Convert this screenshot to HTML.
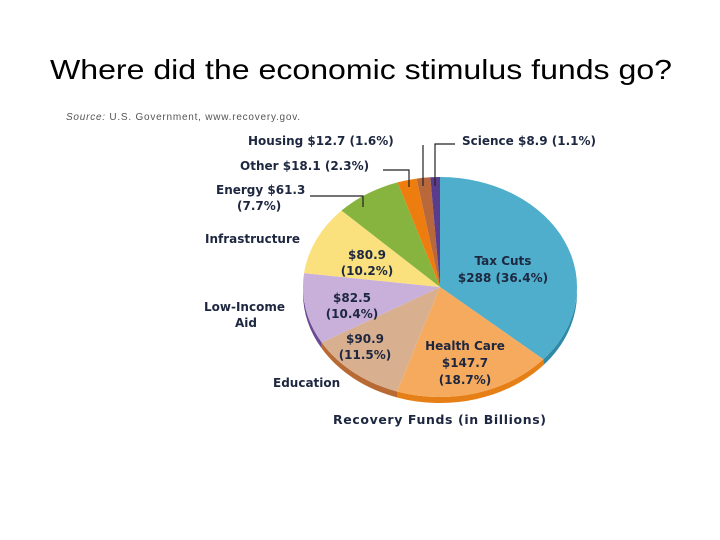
<!DOCTYPE html>
<html><head><meta charset="utf-8"><style>
body{margin:0;width:720px;height:540px;background:#fff;overflow:hidden;font-family:"Liberation Sans",sans-serif}
svg{position:absolute;left:0;top:0}
</style></head><body>
<svg width="720" height="540">
<text x="50" y="79" font-size="28" textLength="622" lengthAdjust="spacingAndGlyphs" fill="#000">Where did the economic stimulus funds go?</text>
<text x="66" y="120" font-size="10" textLength="234" fill="#555"><tspan font-style="italic">Source:</tspan> U.S. Government, www.recovery.gov.</text>
<g id="pie"></g>
<g id="labels" font-weight="bold" font-size="12" fill="#1e2740" style="font-family:'DejaVu Sans',sans-serif"></g>
<g stroke="#222" stroke-width="1.2" fill="none">
<polyline points="310,196 363,196 363,207"/>
<polyline points="383,170 409,170 409,187"/>
<polyline points="423,145 423,186"/>
<polyline points="455,144 435,144 435,186"/>
</g>
<text x="333" y="424" font-size="12.5" textLength="213" font-weight="bold" fill="#1e2740" style="font-family:'DejaVu Sans',sans-serif">Recovery Funds (in Billions)</text>
</svg>
<script>
const categories=["Tax Cuts","Health Care","Education","Low-Income Aid","Infrastructure","Energy","Other","Housing","Science"];
const values=[288,147.7,90.9,82.5,80.9,61.3,18.1,12.7,8.9];
const colors=["#4eaecb","#f5aa5e","#d9b08f","#c9b0da","#fbe07e","#86b43e","#ee7d10","#b8683b","#5a3b8c"];
const sideColors=["#2f8aa8","#e57f16","#b86a35","#6a4a94","#d4b54c","#5f8a28","#c05a08","#8a4a25","#3a2366"];
const cx=440,cy=287,rx=137,ry=110,depth=6;
const NS="http://www.w3.org/2000/svg";
const pie=document.getElementById('pie');
const total=values.reduce((a,b)=>a+b,0);
function pt(t,dy){return [cx+rx*Math.sin(t),cy-ry*Math.cos(t)+(dy||0)];}
let a=0;const angs=[];
values.forEach(v=>{const b=a+v/total*2*Math.PI;angs.push([a,b]);a=b;});
angs.forEach(([s,e],i)=>{
  const s2=Math.max(s,Math.PI/2),e2=Math.min(e,3*Math.PI/2);
  if(e2<=s2)return;
  const p1=pt(s2),p2=pt(e2),p3=pt(e2,depth),p4=pt(s2,depth);
  const path=document.createElementNS(NS,'path');
  path.setAttribute('d',`M${p1} A${rx},${ry} 0 0 1 ${p2} L${p3} A${rx},${ry} 0 0 0 ${p4} Z`);
  path.setAttribute('fill',sideColors[i]);
  
  
  pie.appendChild(path);
});
angs.forEach(([s,e],i)=>{
  const p1=pt(s),p2=pt(e);const large=(e-s)>Math.PI?1:0;
  const path=document.createElementNS(NS,'path');
  path.setAttribute('d',`M${cx},${cy} L${p1} A${rx},${ry} 0 ${large} 1 ${p2} Z`);
  path.setAttribute('fill',colors[i]);
  
  
  pie.appendChild(path);
});
const labels=[
 [[["Tax Cuts",503,265],["$288 (36.4%)",503,282]],"middle"],
 [[["Health Care",465,350],["$147.7",465,367],["(18.7%)",465,384]],"middle"],
 [[["$90.9",365,343],["(11.5%)",365,359]],"middle"],
 [[["$82.5",352,302],["(10.4%)",352,318]],"middle"],
 [[["$80.9",367,259],["(10.2%)",367,275]],"middle"],
 [[["Energy $61.3",216,194],["(7.7%)",237,210]],"start"],
 [[["Other $18.1 (2.3%)",240,170]],"start"],
 [[["Housing $12.7 (1.6%)",248,145]],"start"],
 [[["Science $8.9 (1.1%)",462,145]],"start"],
 [[["Infrastructure",205,243]],"start"],
 [[["Low-Income",204,311],["Aid",235,327]],"start"],
 [[["Education",273,387]],"start"]
];
const lg=document.getElementById('labels');
labels.forEach(([lines,anchor],k)=>{
  lines.forEach(([t,x,y])=>{
    const el=document.createElementNS(NS,'text');
    el.setAttribute('x',x);el.setAttribute('y',y);el.setAttribute('text-anchor',anchor);
    el.textContent=t;
    
    
    lg.appendChild(el);
  });
});
</script>
</body></html>
